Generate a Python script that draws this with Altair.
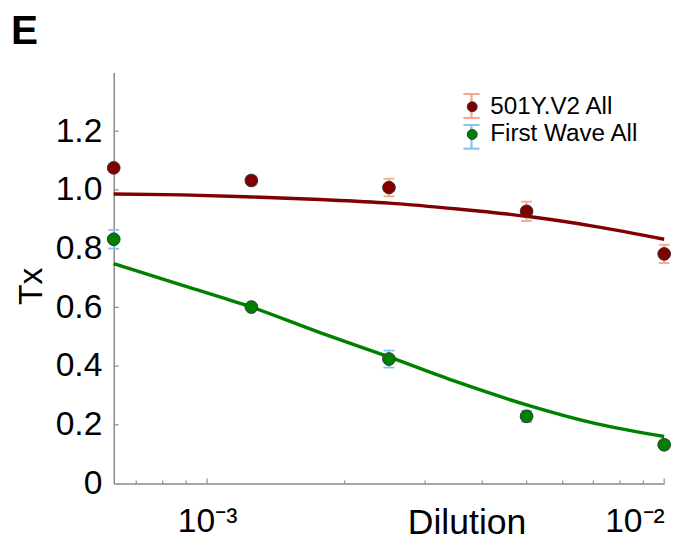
import altair as alt
import pandas as pd

# ---- data ----
series_names = ["501Y.V2 All", "First Wave All"]
dilution = [1/1600, 1/800, 1/400, 1/200, 1/100]
variant_tx = [1.075, 1.032, 1.008, 0.927, 0.782]
variant_err = [0.012, 0.015, 0.030, 0.033, 0.031]
first_tx = [0.832, 0.601, 0.424, 0.229, 0.132]
first_err = [0.032, 0.010, 0.029, 0.019, 0.008]

curve_dilution = [1/1600, 1/1131, 1/800, 1/566, 1/400, 1/283, 1/200, 1/141, 1/100]
variant_curve = [0.986, 0.983, 0.976, 0.967, 0.955, 0.935, 0.910, 0.875, 0.832]
first_curve = [0.749, 0.675, 0.601, 0.514, 0.431, 0.345, 0.268, 0.204, 0.160]

y_tick_values = [0.2, 0.4, 0.6, 0.8, 1.0, 1.2]
y_label_values = [0, 0.2, 0.4, 0.6, 0.8, 1.0, 1.2]
x_minor_ticks = [0.0007, 0.0008, 0.0009, 0.002, 0.003, 0.004, 0.005, 0.006, 0.007, 0.008, 0.009]
x_major_ticks = [0.001, 0.01]
x_label_values = [0.0007, 0.001, 0.01]

fill_colors = ["#800000", "#008000"]
err_colors = ["#F4A88C", "#86C5F0"]
line_colors = ["#800000", "#008000"]

# ---- tables ----
pts = pd.DataFrame({
    "series": [series_names[0]] * 5 + [series_names[1]] * 5,
    "dilution": dilution + dilution,
    "tx": variant_tx + first_tx,
    "err": variant_err + first_err,
})
pts["lo"] = pts["tx"] - pts["err"]
pts["hi"] = pts["tx"] + pts["err"]
caps = pd.concat([
    pts[["series", "dilution"]].assign(tx=pts["lo"]),
    pts[["series", "dilution"]].assign(tx=pts["hi"]),
])
curves = pd.DataFrame({
    "series": [series_names[0]] * len(curve_dilution) + [series_names[1]] * len(curve_dilution),
    "dilution": curve_dilution + curve_dilution,
    "tx": variant_curve + first_curve,
})
ytk = pd.DataFrame({"tx": y_tick_values})
xminor = pd.DataFrame({"dilution": x_minor_ticks})
xmajor = pd.DataFrame({"dilution": x_major_ticks})
etext = pd.DataFrame({"t": ["E"]})

FONT = "Liberation Sans"
W, H = 557, 416

xs = alt.Scale(type="log", domain=[1/1600, 1/100], nice=False)
ys = alt.Scale(domain=[0, 1.4], nice=False, zero=False)

xaxis = alt.Axis(
    title="Dilution", values=x_label_values,
    labelExpr="datum.value > 0.005 ? '10⁻²' : (datum.value > 0.00095 ? '10⁻³' : '')",
    ticks=False, tickSize=0, grid=False, domainColor="#8a8a8a", domainWidth=1.5,
    labelFont=FONT, labelFontSize=34, labelColor="black", labelPadding=22,
    labelFlush=True, labelOverlap=False,
    titleFont=FONT, titleFontSize=36, titleFontWeight="normal", titleColor="black",
    titleX=357, titleY=51, titleAlign="center", titleBaseline="alphabetic",
)
yaxis = alt.Axis(
    title="Tx", values=y_label_values,
    labelExpr="datum.value == 0 ? '0' : format(datum.value, '.1f')",
    ticks=False, tickSize=0, grid=False, domainColor="#8a8a8a", domainWidth=1.5,
    labelFont=FONT, labelFontSize=34, labelColor="black", labelPadding=12,
    titleFont=FONT, titleFontSize=34, titleFontWeight="normal", titleColor="black",
    titleX=-73, titleY=216, titleAngle=270, titleAlign="center", titleBaseline="alphabetic",
)

def X(field="dilution"):
    return alt.X(field, type="quantitative", scale=xs, axis=xaxis)

def Y(field="tx"):
    return alt.Y(field, type="quantitative", scale=ys, axis=yaxis)

stroke_legend = alt.Legend(
    orient="none", legendX=351, legendY=23, title=None,
    symbolType="M-0.8,-1.2H0.8M0,-1.2V1.2M-0.8,1.2H0.8", symbolSize=400,
    symbolStrokeWidth=1.8, symbolFillColor="transparent",
    labelExpr="''", labelFontSize=1,
    rowPadding=-1.0, padding=0, labelOffset=0,
)
fill_legend = alt.Legend(
    orient="none", legendX=350.5, legendY=22.5, title=None,
    symbolType="circle", symbolSize=100, symbolStrokeColor="#333333", symbolStrokeWidth=1,
    labelFont=FONT, labelFontSize=24.5, labelColor="black",
    rowPadding=3, padding=0, labelOffset=6,
)

stroke_enc = alt.Stroke("series:N", scale=alt.Scale(domain=series_names, range=err_colors), legend=stroke_legend)

bars = alt.Chart(pts).mark_rule(strokeWidth=1.8).encode(
    x=X(), y=Y("lo"), y2="hi", stroke=stroke_enc
)
capmarks = alt.Chart(caps).mark_point(shape="M-1,0H1", size=121, strokeWidth=1.8, filled=False, opacity=1).encode(
    x=X(), y=Y(), stroke=stroke_enc
)
lines = alt.Chart(curves).mark_line(strokeWidth=3.5, interpolate="monotone").encode(
    x=X(), y=Y(),
    color=alt.Color("series:N", scale=alt.Scale(domain=series_names, range=line_colors), legend=None),
    order="dilution:Q",
)
dots = alt.Chart(pts).mark_circle(size=165, stroke="#333333", strokeWidth=1, opacity=1).encode(
    x=X(), y=Y(),
    fill=alt.Fill("series:N", scale=alt.Scale(domain=series_names, range=fill_colors), legend=fill_legend),
)
yticks = alt.Chart(ytk).mark_rule(color="#8a8a8a", strokeWidth=1.2).encode(
    y=Y(), x=alt.value(0), x2=alt.value(5)
)
xminor_t = alt.Chart(xminor).mark_rule(color="#8a8a8a", strokeWidth=1.2).encode(
    x=X(), y=alt.value(H), y2=alt.value(H - 3)
)
xmajor_t = alt.Chart(xmajor).mark_rule(color="#8a8a8a", strokeWidth=1.2).encode(
    x=X(), y=alt.value(H), y2=alt.value(H - 5)
)
label_e = alt.Chart(etext).mark_text(
    font=FONT, fontSize=41, fontWeight="bold", align="left", baseline="alphabetic", color="black"
).encode(text="t:N", x=alt.value(-104), y=alt.value(-29))

chart = alt.layer(
    yticks, xminor_t, xmajor_t, lines, bars, capmarks, dots, label_e
).resolve_scale(
    stroke="independent", fill="independent", color="independent"
).properties(
    width=W, height=H,
    autosize=alt.AutoSizeParams(type="none"),
    padding={"left": 107, "top": 62, "right": 16, "bottom": 60},
    background="white",
).configure_view(stroke=None)

chart.save("out.html", embed_options={"renderer": "svg", "actions": False})
